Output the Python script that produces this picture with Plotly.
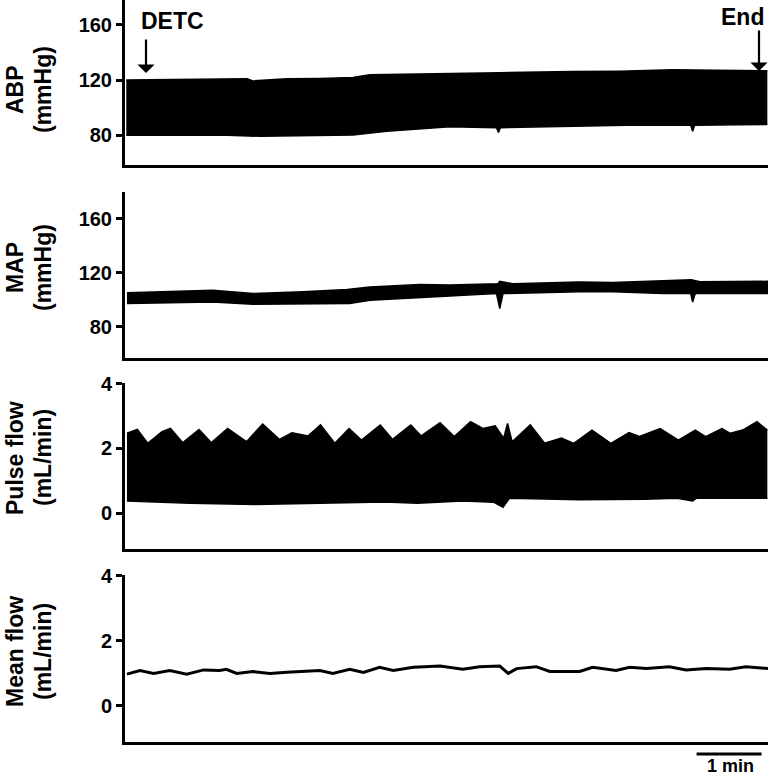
import plotly.graph_objects as go

# ---------------- data (time in minutes) ----------------
abp_up_t = [0.02, 0.85, 1.88, 1.97, 2.49, 3.0, 3.51, 3.77, 4.38, 5.0, 5.77, 6.89, 7.62, 8.43, 9.15, 9.89]
abp_up_v = [120.2, 120.6, 121.0, 119.5, 121.0, 121.3, 122.0, 123.9, 124.5, 125.0, 125.5, 126.3, 126.5, 127.5, 127.0, 126.8]
abp_lo_t = [0.02, 1.46, 2.08, 3.0, 3.51, 4.03, 4.54, 5.0, 5.72, 5.75, 5.78, 6.89, 7.92, 8.71, 8.74, 8.77, 9.89]
abp_lo_v = [80.2, 80.4, 79.4, 79.8, 80.4, 83.1, 85.0, 86.3, 85.6, 82.2, 85.6, 86.3, 87.5, 87.3, 83.0, 87.3, 88.0]

map_up_t = [0.03, 1.35, 1.97, 2.74, 3.42, 3.77, 4.54, 5.0, 5.74, 5.77, 5.97, 7.0, 7.51, 8.28, 8.72, 8.85, 9.92]
map_up_v = [105.4, 107.2, 104.7, 106.0, 107.8, 109.6, 111.4, 111.0, 112.0, 113.8, 112.0, 113.3, 113.0, 114.6, 115.0, 113.5, 113.8]
map_lo_t = [0.03, 1.35, 1.97, 3.0, 3.46, 3.77, 4.54, 5.0, 5.72, 5.77, 5.82, 7.0, 7.51, 8.28, 8.71, 8.74, 8.78, 9.92]
map_lo_v = [97.3, 98.5, 96.8, 96.8, 97.3, 99.8, 101.5, 103.0, 104.7, 93.6, 104.7, 106.0, 106.0, 104.7, 104.7, 98.5, 104.7, 104.7]

pf_up_t = [0.03, 0.19, 0.35, 0.57, 0.70, 0.89, 1.14, 1.33, 1.58, 1.87, 2.12, 2.38, 2.57, 2.82, 3.01, 3.23,
           3.45, 3.64, 3.93, 4.12, 4.40, 4.56, 4.85, 5.07, 5.32, 5.51, 5.70, 5.83, 5.89, 5.96, 6.24, 6.46,
           6.72, 6.91, 7.19, 7.48, 7.76, 7.92, 8.24, 8.52, 8.78, 8.94, 9.19, 9.32, 9.51, 9.73, 9.89]
pf_up_v = [2.47, 2.59, 2.16, 2.52, 2.62, 2.18, 2.59, 2.18, 2.62, 2.21, 2.76, 2.28, 2.49, 2.39, 2.73, 2.16,
           2.62, 2.26, 2.73, 2.28, 2.73, 2.39, 2.80, 2.37, 2.83, 2.62, 2.70, 2.32, 2.78, 2.21, 2.73, 2.16,
           2.32, 2.16, 2.57, 2.16, 2.49, 2.37, 2.62, 2.26, 2.57, 2.37, 2.62, 2.47, 2.57, 2.83, 2.57]
pf_lo_t = [0.03, 1.0, 2.0, 3.0, 4.0, 4.5, 5.2, 5.68, 5.82, 5.92, 7.0, 8.0, 8.5, 8.74, 8.8, 9.89]
pf_lo_v = [0.37, 0.30, 0.26, 0.30, 0.34, 0.30, 0.37, 0.33, 0.18, 0.46, 0.41, 0.43, 0.46, 0.37, 0.46, 0.46]

mf_t = [0.03, 0.23, 0.44, 0.69, 0.95, 1.21, 1.46, 1.56, 1.72, 1.97, 2.23, 2.49, 3.0, 3.2, 3.46, 3.67,
        3.92, 4.13, 4.44, 4.85, 5.2, 5.46, 5.77, 5.9, 6.03, 6.33, 6.54, 7.0, 7.2, 7.56, 7.77, 8.03,
        8.38, 8.64, 8.95, 9.31, 9.56, 9.92]
mf_v = [0.98, 1.09, 1.0, 1.09, 0.98, 1.11, 1.09, 1.13, 1.0, 1.06, 1.0, 1.04, 1.09, 1.0, 1.13, 1.03,
        1.19, 1.09, 1.19, 1.23, 1.13, 1.21, 1.23, 1.0, 1.15, 1.21, 1.06, 1.06, 1.19, 1.09, 1.19, 1.15,
        1.21, 1.11, 1.15, 1.13, 1.21, 1.15]

abp_ticks = [80, 120, 160]
flow_ticks = [0, 2, 4]
titles = [("ABP", "(mmHg)"), ("MAP", "(mmHg)"), ("Pulse flow", "(mL/min)"), ("Mean flow", "(mL/min)")]

# ---------------- figure ----------------
W, H = 771, 778
FONT = "Liberation Sans, Arial, sans-serif"
fig = go.Figure()

def band(t_lo, v_lo, t_up, v_up, xa, ya):
    fig.add_trace(go.Scatter(x=t_lo, y=v_lo, mode="lines", line=dict(color="black", width=1.5),
                             xaxis=xa, yaxis=ya, showlegend=False, hoverinfo="skip"))
    fig.add_trace(go.Scatter(x=t_up, y=v_up, mode="lines", line=dict(color="black", width=1.5),
                             fill="tonexty", fillcolor="black",
                             xaxis=xa, yaxis=ya, showlegend=False, hoverinfo="skip"))

band(abp_lo_t, abp_lo_v, abp_up_t, abp_up_v, "x", "y")
band(map_lo_t, map_lo_v, map_up_t, map_up_v, "x2", "y2")
band(pf_lo_t, pf_lo_v, pf_up_t, pf_up_v, "x3", "y3")
fig.add_trace(go.Scatter(x=mf_t, y=mf_v, mode="lines", line=dict(color="black", width=3),
                         xaxis="x4", yaxis="y4", showlegend=False, hoverinfo="skip"))

# panel pixel geometry: (top, bottom)
panels = [(0, 165), (192, 358), (383, 549), (575, 742)]
yranges = [[58.6, 178.1], [57.0, 180.0], [-1.116, 4.03], [-1.108, 4.03]]
ytickv = [abp_ticks, abp_ticks, flow_ticks, flow_ticks]
x0, x1 = 125 / W, 768 / W

layout = dict(template="none", width=W, height=H, margin=dict(l=0, r=0, t=0, b=0, pad=0),
              paper_bgcolor="white", plot_bgcolor="white", showlegend=False)
for i, ((top, bot), yr, tv) in enumerate(zip(panels, yranges, ytickv)):
    n = "" if i == 0 else str(i + 1)
    layout["xaxis" + n] = dict(domain=[x0, x1], range=[0, 9.9], anchor="y" + n, automargin=False,
                               showline=True, linecolor="black", linewidth=3,
                               showgrid=False, zeroline=False, showticklabels=False, ticks="")
    layout["yaxis" + n] = dict(domain=[1 - bot / H, 1 - top / H], range=yr, anchor="x" + n,
                               automargin=False,
                               showline=True, linecolor="black", linewidth=3,
                               showgrid=False, zeroline=False, ticks="outside", ticklen=6,
                               tickwidth=2.5, tickcolor="black", tickvals=tv,
                               tickfont=dict(family=FONT, size=20, color="black", weight="bold"))
fig.update_layout(**layout)

# y titles as two rotated lines
title_y = [90, 268, 458, 652]
annos = []
for (l1, l2), yc in zip(titles, title_y):
    for txt, xc in ((l1, 15), (l2, 43)):
        annos.append(dict(text=txt, x=xc / W, y=1 - yc / H, xref="paper", yref="paper",
                          textangle=-90, showarrow=False, xanchor="center", yanchor="middle",
                          font=dict(family=FONT, size=23, color="black", weight="bold")))

# event labels
annos.append(dict(text="DETC", x=172 / W, y=1 - 21 / H, xref="paper", yref="paper", showarrow=False,
                  xanchor="center", yanchor="middle",
                  font=dict(family=FONT, size=23, color="black", weight="bold")))
annos.append(dict(text="End", x=742 / W, y=1 - 17 / H, xref="paper", yref="paper", showarrow=False,
                  xanchor="center", yanchor="middle",
                  font=dict(family=FONT, size=23, color="black", weight="bold")))
# arrows (tail offset in pixels above the head)
for ax_px, y_from, y_to in ((146, 38, 73), (759, 29, 71)):
    annos.append(dict(text="", x=ax_px / W, y=1 - y_to / H, xref="paper", yref="paper",
                      ax=0, ay=-(y_to - y_from), axref="pixel", ayref="pixel",
                      showarrow=True, arrowhead=1, arrowsize=1.3, arrowwidth=2.2, arrowcolor="black"))
# scale bar label (kept fully inside the picture)
annos.append(dict(text="1 min", x=730 / W, y=1 - 777 / H, xref="paper", yref="paper", showarrow=False,
                  xanchor="center", yanchor="bottom", borderpad=0,
                  font=dict(family=FONT, size=18, color="black", weight="bold")))
fig.update_layout(annotations=annos)

# scale bar: 1 minute in data units of bottom panel
fig.add_shape(type="line", xref="x4", yref="paper", x0=8.80, x1=9.80,
              y0=1 - 754 / H, y1=1 - 754 / H, line=dict(color="black", width=3))

fig.write_html("out.html", config={"displayModeBar": False},
               post_script="document.body.style.margin='0px';")
